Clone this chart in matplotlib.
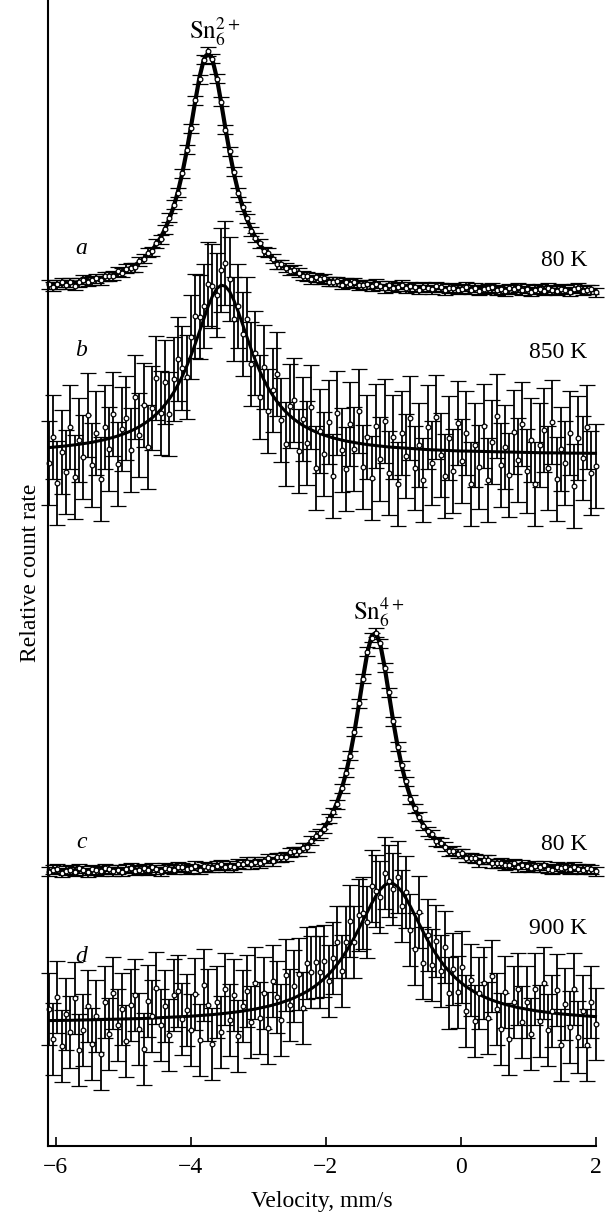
import numpy as np
import matplotlib
matplotlib.use("Agg")
import matplotlib.pyplot as plt

plt.rcParams['font.family'] = ['Liberation Serif', 'DejaVu Serif']
plt.rcParams['mathtext.fontset'] = 'stix'

# velocity channels, mm/s
v_start, v_stop, n_chan = -6.1, 2.0, 128
velocity = np.linspace(v_start, v_stop, n_chan)

# fitted curves (relative count rate, spectra stacked with offsets)
fit_a = [861.0, 861.3, 861.6, 862.0, 862.4, 862.9, 863.4, 863.9, 864.5, 865.2, 865.9, 866.8, 867.7, 868.7, 869.8, 871.1,
         872.6, 874.2, 876.1, 878.3, 880.8, 883.7, 887.2, 891.2, 896.0, 901.7, 908.6, 917.0, 927.1, 939.4, 954.5, 972.7,
         994.3, 1018.8, 1044.6, 1068.8, 1086.5, 1093.0, 1086.4, 1068.5, 1044.2, 1018.2, 993.8, 972.4, 954.2, 939.2, 926.9, 916.8,
         908.5, 901.6, 895.9, 891.1, 887.1, 883.7, 880.8, 878.2, 876.1, 874.2, 872.5, 871.1, 869.8, 868.7, 867.6, 866.7,
         865.9, 865.2, 864.5, 863.9, 863.4, 862.9, 862.4, 862.0, 861.6, 861.3, 861.0, 860.6, 860.4, 860.1, 859.9, 859.6,
         859.4, 859.2, 859.1, 858.9, 858.7, 858.6, 858.4, 858.3, 858.2, 858.0, 857.9, 857.8, 857.7, 857.6, 857.5, 857.5,
         857.4, 857.3, 857.2, 857.2, 857.1, 857.0, 857.0, 856.9, 856.8, 856.8, 856.7, 856.7, 856.6, 856.6, 856.6, 856.5,
         856.5, 856.4, 856.4, 856.4, 856.3, 856.3, 856.3, 856.2, 856.2, 856.2, 856.2, 856.1, 856.1, 856.1, 856.0, 856.0]

fit_b = [698.4, 698.8, 699.2, 699.6, 700.1, 700.6, 701.1, 701.7, 702.3, 703.0, 703.7, 704.6, 705.5, 706.4, 707.5, 708.7,
         710.0, 711.5, 713.1, 714.9, 717.0, 719.3, 721.9, 724.9, 728.2, 732.0, 736.4, 741.4, 747.1, 753.6, 761.2, 769.7,
         779.4, 790.2, 802.0, 814.5, 827.3, 839.5, 849.8, 857.3, 860.8, 859.8, 854.5, 845.6, 834.3, 821.8, 809.1, 796.8,
         785.4, 775.0, 765.9, 757.8, 750.7, 744.5, 739.1, 734.4, 730.3, 726.7, 723.5, 720.7, 718.3, 716.1, 714.1, 712.4,
         710.8, 709.4, 708.1, 707.0, 706.0, 705.0, 704.2, 703.4, 702.7, 702.0, 701.4, 700.9, 700.4, 699.9, 699.4, 699.0,
         698.7, 698.3, 698.0, 697.7, 697.4, 697.1, 696.8, 696.6, 696.4, 696.2, 696.0, 695.8, 695.6, 695.4, 695.3, 695.1,
         695.0, 694.8, 694.7, 694.6, 694.5, 694.4, 694.3, 694.2, 694.1, 694.0, 693.9, 693.8, 693.7, 693.6, 693.6, 693.5,
         693.4, 693.4, 693.3, 693.2, 693.2, 693.1, 693.1, 693.0, 693.0, 692.9, 692.9, 692.8, 692.8, 692.7, 692.7, 692.7]

fit_c = [275.3, 275.3, 275.4, 275.4, 275.4, 275.5, 275.5, 275.6, 275.6, 275.7, 275.7, 275.8, 275.8, 275.9, 276.0, 276.0,
         276.1, 276.1, 276.2, 276.3, 276.4, 276.5, 276.6, 276.7, 276.8, 276.9, 277.0, 277.1, 277.2, 277.4, 277.5, 277.7,
         277.9, 278.0, 278.2, 278.4, 278.6, 278.9, 279.1, 279.4, 279.7, 280.0, 280.4, 280.8, 281.2, 281.7, 282.2, 282.7,
         283.4, 284.0, 284.8, 285.6, 286.6, 287.7, 288.9, 290.2, 291.8, 293.6, 295.7, 298.1, 300.9, 304.2, 308.1, 312.8,
         318.4, 325.3, 333.6, 344.0, 356.6, 372.2, 391.3, 414.2, 440.6, 468.3, 493.5, 510.2, 513.3, 501.7, 479.3, 452.0,
         424.8, 400.4, 379.6, 362.6, 348.8, 337.6, 328.5, 321.1, 315.0, 310.0, 305.8, 302.2, 299.2, 296.6, 294.4, 292.5,
         290.9, 289.4, 288.2, 287.0, 286.0, 285.1, 284.3, 283.6, 283.0, 282.4, 281.9, 281.4, 281.0, 280.6, 280.2, 279.9,
         279.5, 279.3, 279.0, 278.7, 278.5, 278.3, 278.1, 277.9, 277.8, 277.6, 277.4, 277.3, 277.2, 277.0, 276.9, 276.8]

fit_d = [125.4, 125.5, 125.5, 125.6, 125.6, 125.7, 125.8, 125.9, 125.9, 126.0, 126.1, 126.2, 126.3, 126.4, 126.5, 126.6,
         126.7, 126.8, 127.0, 127.1, 127.2, 127.4, 127.5, 127.7, 127.8, 128.0, 128.2, 128.4, 128.6, 128.8, 129.0, 129.3,
         129.5, 129.8, 130.1, 130.4, 130.7, 131.1, 131.4, 131.8, 132.2, 132.7, 133.2, 133.7, 134.3, 134.9, 135.6, 136.3,
         137.0, 137.9, 138.8, 139.8, 140.9, 142.1, 143.4, 144.9, 146.4, 148.2, 150.2, 152.3, 154.7, 157.4, 160.4, 163.8,
         167.5, 171.7, 176.4, 181.7, 187.5, 194.0, 201.1, 208.8, 217.0, 225.6, 234.3, 242.6, 250.2, 256.5, 260.8, 262.9,
         262.4, 259.4, 254.3, 247.5, 239.6, 231.0, 222.4, 213.9, 205.8, 198.3, 191.5, 185.2, 179.6, 174.6, 170.1, 166.1,
         162.5, 159.2, 156.4, 153.8, 151.5, 149.4, 147.5, 145.8, 144.3, 142.9, 141.6, 140.5, 139.4, 138.4, 137.6, 136.7,
         136.0, 135.3, 134.7, 134.1, 133.5, 133.0, 132.5, 132.1, 131.7, 131.3, 130.9, 130.6, 130.3, 130.0, 129.7, 129.4]

# deviation of measured points from the fits
res_a = [1, -2, 0, 2, -1, 1, -3, 0, 2, -1, 0, 1, -2, 1, 0, -1,
         2, -1, 1, 0, -2, 1, 0, 2, -1, 1, -2, 0, 1, 2, -1, 0,
         2, -1, 1, -2, 0, 2, 1, -1, 0, -2, 1, 2, -1, 0, 1, -2,
         0, 1, -1, 2, 0, -2, 1, 0, -1, 2, 1, -1, 0, -2, 1, 0,
         2, -1, 0, 1, -2, 1, 0, 2, -1, 0, 1, -1, 2, 0, -2, 1,
         -1, 0, 2, -1, 1, 0, -2, 1, 0, -1, 2, 1, -2, 0, 1, -1,
         0, 2, -1, 1, -2, 0, 1, 2, -1, 0, -2, 1, 0, 2, -1, 1,
         -2, 0, 1, -1, 2, 0, -1, 1, 0, -2, 1, 2, -1, 0, 1, -2]

res_b = [-15, 10, -36, -6, -26, 18, -32, 4, -13, 28, -23, 8, -38, 13, -10, 23,
         -28, 6, 15, -19, 32, -8, 19, -26, 10, 36, -3, 23, -15, 13, 26, 8,
         -10, 19, 28, 15, 13, 23, 10, -6, 15, 23, 13, -19, 6, -10, 18, -15,
         8, -26, 13, -23, 5, 28, -13, -32, 10, 19, -28, 6, -15, 23, -36, 3,
         -19, 15, -38, 26, -10, -28, 18, -6, 32, -23, 8, -33, 20, -13, 26, -26,
         10, -36, 15, -8, 31, -19, 4, -31, 23, -13, 33, -5, -26, 13, -20, 28,
         -10, 18, -33, 6, -15, 26, -28, 10, 36, -13, 5, -23, 20, -8, 28, -18,
         13, -31, 8, 23, -15, 31, -26, 4, -10, 20, -33, 15, -5, 26, -20, -13]

res_c = [-1, 1, 2, -2, 0, 1, -1, 2, 0, -2, 1, 0, -1, 2, 1, -1,
         0, -2, 1, 2, -1, 0, 1, -1, 2, 0, -2, 1, 0, -1, 2, 1,
         -1, 0, 2, -2, 1, 0, -1, 1, 2, -1, 0, -2, 1, 0, 2, -1,
         1, -1, 0, 2, -2, 1, 0, -1, 2, 1, -1, 0, -2, 1, 2, 0,
         -1, 2, 0, -2, 1, 1, -1, 0, 2, -1, 1, -2, 0, 1, -1, 2,
         0, -1, 1, 2, -2, 0, 1, -1, 0, 2, -1, 1, 0, -2, 1, 0,
         2, -1, 0, 1, -2, 1, 2, -1, 0, 1, -1, 0, 2, -2, 1, 0,
         -1, 1, 0, 2, -1, -2, 1, 0, 1, -1, 2, 0, -1, 1, 0, -2]

res_d = [12, -18, 24, -26, 6, -12, 22, -30, -10, 14, -24, 4, -34, 18, -14, 26,
         -6, 10, -22, 14, 24, -10, -30, 17, 2, 30, -7, 12, -18, 22, 26, -2,
         7, -14, 22, -24, 30, 10, -29, 12, -18, 24, -7, 17, -24, 5, 19, -12,
         26, -10, 14, -22, 24, 7, -17, 26, -5, 12, 22, -14, 28, 17, 24, 10,
         18, -7, 12, 22, -12, 10, 24, -5, 14, 7, -10, 17, 5, -7, 12, 2,
         -5, 10, -14, 7, -24, -34, 12, -31, 5, -17, 14, -10, 19, -22, 7, -12,
         17, -24, 10, -29, 2, 14, -19, 24, -7, -26, 12, -33, 5, 19, -14, 7,
         -24, 22, -10, 29, -17, 2, 24, -31, 10, -12, 26, -22, 5, -29, 14, -7]

err_a, err_b, err_c, err_d = 4.5, 42, 4.5, 36

spectra = [(fit_a, res_a, err_a, 3.0), (fit_b, res_b, err_b, 2.2),
           (fit_c, res_c, err_c, 3.0), (fit_d, res_d, err_d, 2.2)]

fig = plt.figure(figsize=(6.1, 12.13), dpi=100)
ax = fig.add_axes([47.5 / 610, 1 - 1146 / 1213, 548 / 610, 1146 / 1213])

for fit, res, err, lw in spectra:
    data = np.array(fit) + np.array(res)
    ax.errorbar(velocity, data, yerr=err, fmt='o', ms=3.4, mfc='white', mec='black',
                mew=0.9, ecolor='black', elinewidth=1.3, capsize=5.5, capthick=1.4,
                clip_on=False)
    ax.plot(velocity, fit, color='black', lw=lw, clip_on=False)

fs = 17
ax.text(-3.64, 1114, r'$\mathrm{Sn}_6^{2+}$', ha='center', va='center', fontsize=fs + 1)
ax.text(-1.22, 534, r'$\mathrm{Sn}_6^{4+}$', ha='center', va='center', fontsize=fs + 1)
for lab, y in zip(['a', 'b', 'c', 'd'], [898, 796, 304, 190]):
    ax.text(-5.62, y, lab, style='italic', fontsize=fs, ha='center', va='center')
for lab, y in zip(['80 K', '850 K', '80 K', '900 K'], [886, 793, 302, 218]):
    ax.text(1.88, y, lab, fontsize=fs, ha='right', va='center')

ax.set_xlim(-6.12, 2.0)
ax.set_ylim(0, 1146)
ax.set_xticks([-6, -4, -2, 0, 2])
ax.set_yticks([])
ax.tick_params(axis='x', direction='in', length=6.5, width=1.2, labelsize=fs, pad=8)
ax.spines['top'].set_visible(False)
ax.spines['right'].set_visible(False)
ax.spines['left'].set_linewidth(1.5)
ax.spines['bottom'].set_linewidth(1.5)
ax.set_xlabel('Velocity, mm/s', fontsize=fs, labelpad=9)
ax.set_ylabel('Relative count rate', fontsize=fs, labelpad=5)

fig.savefig('out.png', dpi=100)
